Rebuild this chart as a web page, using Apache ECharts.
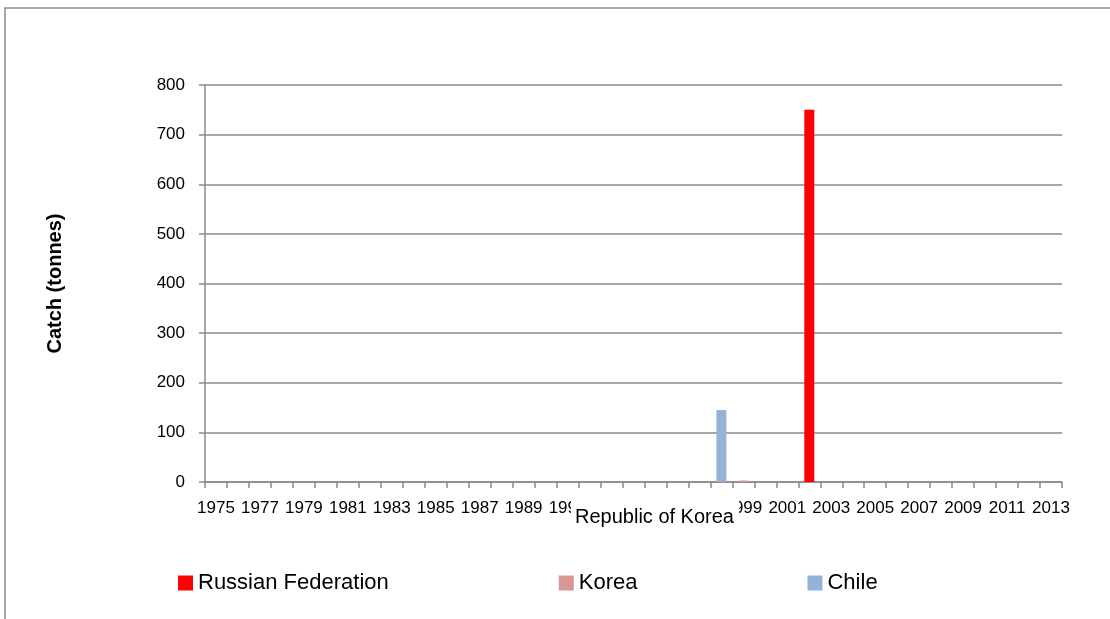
<!DOCTYPE html>
<html>
<head>
<meta charset="utf-8">
<script src="https://cdn.jsdelivr.net/npm/echarts@6/dist/echarts.min.js"></script>
<style>
  html, body { margin:0; padding:0; background:#fff; }
  #chart { width:1110px; height:619px; }
</style>
</head>
<body>
<div id="chart"></div>
<script>
// years on the x axis
var years = ['1975','1976','1977','1978','1979','1980','1981','1982','1983','1984',
  '1985','1986','1987','1988','1989','1990','1991','1992','1993','1994',
  '1995','1996','1997','1998','1999','2000','2001','2002','2003','2004',
  '2005','2006','2007','2008','2009','2010','2011','2012','2013'];

// catch in tonnes, one value per year
var russia = [0,0,0,0,0,0,0,0,0,0, 0,0,0,0,0,0,0,0,0,0, 0,0,0,0,0,0,0,750,0,0, 0,0,0,0,0,0,0,0,0];
var korea  = [0,0,0,0,0,0,0,0,0,0, 0,0,0,0,0,0,0,0,0,0, 0,0,0,0,3,0,0,0,0,0, 0,0,0,0,0,0,0,0,0];
var chile  = [0,0,0,0,0,0,0,0,0,0, 0,0,0,0,0,0,0,0,0,0, 0,0,0,145,0,0,0,0,0,0, 0,0,0,0,0,0,0,0,0];

var yTicks = [0,100,200,300,400,500,600,700,800];

var font = 'Liberation Sans';
var gray = '#8a8a8a';

var myChart = echarts.init(document.getElementById('chart'));
myChart.setOption({
  animation: false,
  textStyle: { fontFamily: font, color: '#000' },
  grid: { left: 205, right: 48, top: 85, bottom: 137 },
  legend: {
    left: 173,
    top: 567,
    itemWidth: 15,
    itemHeight: 15,
    itemGap: 170,
    icon: 'rect',
    textStyle: { fontSize: 22, fontFamily: font, color: '#000' },
    data: ['Russian Federation', 'Korea', 'Chile']
  },
  xAxis: {
    type: 'category',
    data: years,
    boundaryGap: true,
    axisLine: { lineStyle: { color: gray, width: 1.5 } },
    axisTick: { show: true, length: 6, interval: 0, lineStyle: { color: gray, width: 1.5 } },
    axisLabel: { interval: 1, fontSize: 17, margin: 18, color: '#000', fontFamily: font }
  },
  yAxis: {
    type: 'value',
    min: yTicks[0],
    max: yTicks[yTicks.length - 1],
    interval: 100,
    name: 'Catch (tonnes)',
    nameLocation: 'middle',
    nameGap: 140,
    nameTextStyle: { fontSize: 20, fontWeight: 'bold', color: '#000', fontFamily: font },
    axisLine: { show: true, lineStyle: { color: gray, width: 1.5 } },
    axisTick: { show: true, length: 6, lineStyle: { color: gray, width: 1.5 } },
    splitLine: { lineStyle: { color: gray, width: 1.5 } },
    axisLabel: { fontSize: 17, margin: 20, color: '#000', fontFamily: font }
  },
  graphic: [
    {
      type: 'rect',
      shape: { x: 5, y: 8, width: 1200, height: 700 },
      style: { fill: 'none', stroke: gray, lineWidth: 1.5 },
      z: 0
    },
    {
      type: 'text',
      left: 571,
      top: 496,
      z: 100,
      style: {
        text: 'Republic of Korea',
        fontSize: 20,
        fontFamily: font,
        fill: '#000',
        backgroundColor: '#fff',
        padding: [11, 5, 3, 4]
      }
    }
  ],
  series: [
    { name: 'Russian Federation', type: 'bar', stack: 'c', barWidth: 10, data: russia, itemStyle: { color: '#ff0000' } },
    { name: 'Korea', type: 'bar', stack: 'c', barWidth: 10, data: korea, itemStyle: { color: '#d99694' } },
    { name: 'Chile', type: 'bar', stack: 'c', barWidth: 10, data: chile, itemStyle: { color: '#95b3d7' } }
  ]
});
</script>
</body>
</html>
